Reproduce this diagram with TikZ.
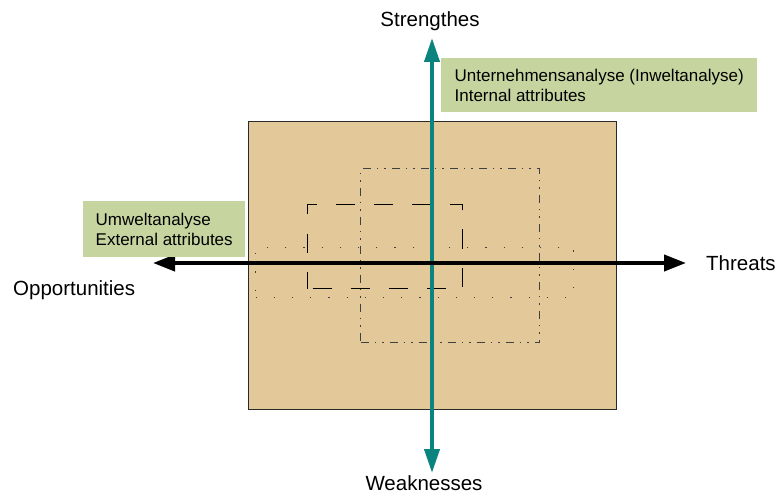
\documentclass[tikz,border=0pt]{standalone}
\usepackage{fontspec}
\setmainfont{Liberation Sans}
\usetikzlibrary{arrows.meta}

\definecolor{tanfill}{HTML}{E3C99A}
\definecolor{boxgreen}{HTML}{C6D5A0}
\definecolor{axisteal}{HTML}{0B8480}
\definecolor{framegray}{HTML}{2A2A2A}

\tikzset{
  axislabel/.style={font=\fontsize{20.5}{24}\selectfont, inner sep=0pt},
  notebox/.style={fill=boxgreen, draw=none, anchor=north west, align=left,
    font=\fontsize{17}{19.5}\selectfont, inner xsep=9pt, inner ysep=0pt},
  field/.style={fill=tanfill, draw=framegray, line width=0.9pt},
  dotframe/.style={draw=black!75, line width=1.2pt, dash pattern=on 1.2pt off 17pt},
  dashframe/.style={draw=black, line width=1pt, dash pattern=on 19pt off 19pt, dash phase=-5pt},
  dashdotframe/.style={draw=black!75, line width=1.1pt,
    dash pattern=on 8pt off 6pt on 1.5pt off 6pt on 1.5pt off 6pt},
  tealaxis/.style={draw=axisteal, line width=4pt,
    {Triangle[length=24pt,width=15pt]}-{Triangle[length=24pt,width=15pt]}},
  blackaxis/.style={draw=black, line width=4pt,
    {Triangle[length=22pt,width=16pt]}-{Triangle[length=22pt,width=16pt]}},
}

\begin{document}
\begin{tikzpicture}[x=1pt, y=-1pt]
  \useasboundingbox (0,0) rectangle (778,494);

  % background field
  \node[field, anchor=north west, minimum width=368pt, minimum height=288pt, inner sep=0pt]
    (field) at (248,121) {};

  % nested frames
  \node[dotframe, anchor=north west, minimum width=318pt, minimum height=50pt, inner sep=0pt]
    (dots) at (255,247) {};
  \node[dashframe, anchor=north west, minimum width=155pt, minimum height=84pt, inner sep=0pt]
    (dashes) at (307,204) {};
  \node[dashdotframe, anchor=north west, minimum width=179pt, minimum height=174pt, inner sep=0pt]
    (dashdots) at (360,168) {};

  % axes
  \coordinate (ntip) at (432,38);
  \coordinate (stip) at (432,473);
  \coordinate (wtip) at (153,263);
  \coordinate (etip) at (686,263);
  \draw[tealaxis] (stip) -- (ntip);
  \draw[blackaxis] (wtip) -- (etip);

  % axis labels
  \node[axislabel, anchor=base] (strength) at (430,27) {Strengthes};
  \node[axislabel, anchor=base] (weak) at (424,490) {Weaknesses};
  \node[axislabel, anchor=base west] (opp) at (13,295) {Opportunities};
  \node[axislabel, anchor=base west] (threat) at (706,270) {Threats};

  % notes
  \node[notebox, minimum width=316pt, minimum height=54pt] (internal) at (441,58)
    {Unternehmensanalyse (Inweltanalyse)\\Internal attributes};
  \node[notebox, minimum width=162pt, minimum height=56pt] (external) at (83,201)
    {Umweltanalyse\\External attributes};
\end{tikzpicture}
\end{document}
